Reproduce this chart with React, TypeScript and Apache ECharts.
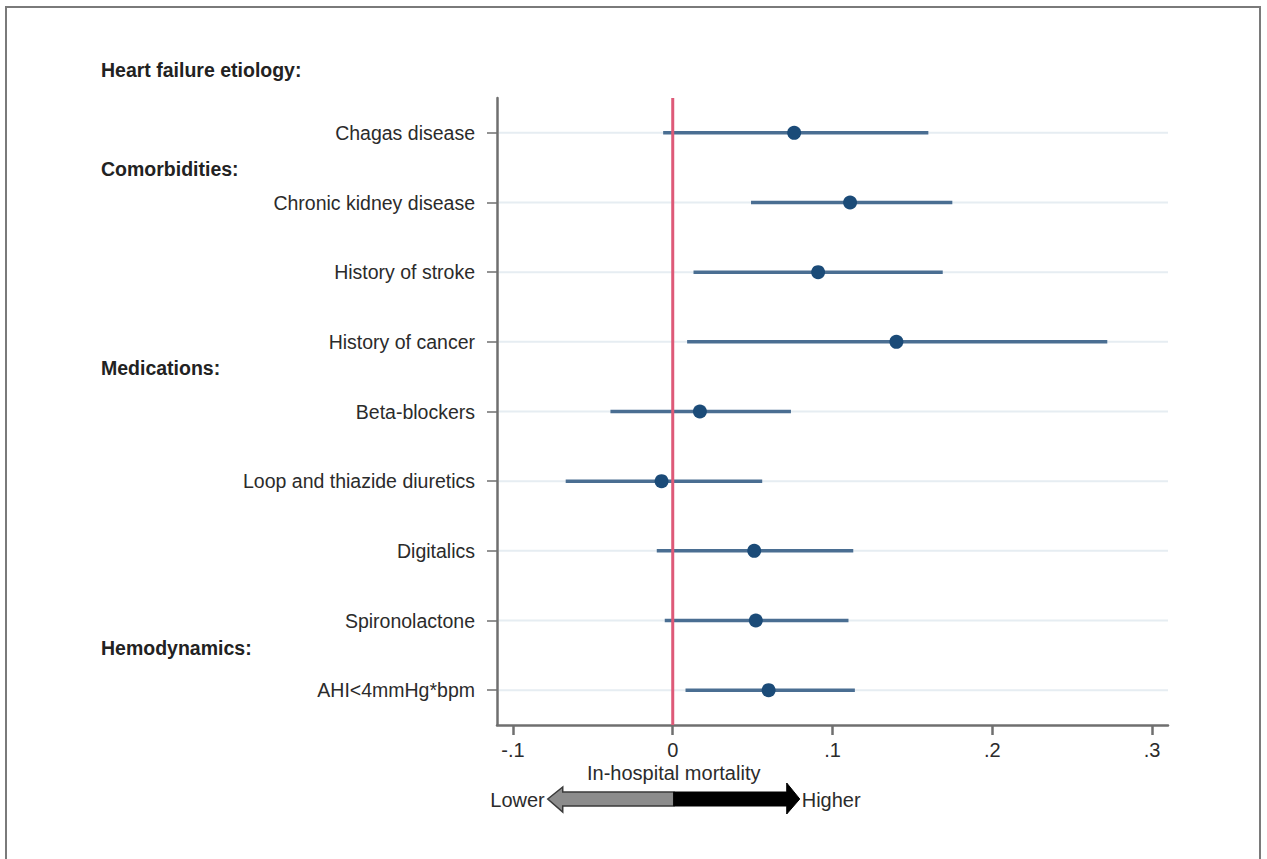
import React, { useEffect, useRef } from "react";
import * as echarts from "echarts";

// Predictors of in-hospital mortality (marginal effect with 95% CI)
const categories = [
  "Chagas disease",
  "Chronic kidney disease",
  "History of stroke",
  "History of cancer",
  "Beta-blockers",
  "Loop and thiazide diuretics",
  "Digitalics",
  "Spironolactone",
  "AHI<4mmHg*bpm",
];
const estimates = [0.076, 0.111, 0.091, 0.14, 0.017, -0.007, 0.051, 0.052, 0.06];
const lowerCI = [-0.006, 0.049, 0.013, 0.009, -0.039, -0.067, -0.01, -0.005, 0.008];
const upperCI = [0.16, 0.175, 0.169, 0.272, 0.074, 0.056, 0.113, 0.11, 0.114];
const xTicks = [-0.1, 0, 0.1, 0.2, 0.3];

// Group headings and their vertical position
const groupHeaders = [
  { text: "Heart failure etiology:", y: 70 },
  { text: "Comorbidities:", y: 169 },
  { text: "Medications:", y: 368 },
  { text: "Hemodynamics:", y: 648 },
];

const FONT = "'Liberation Sans', Arial, Helvetica, sans-serif";
const AXIS_COLOR = "#6f6f6f";

const fmtTick = (v: number) => {
  if (Math.abs(v) < 1e-9) return "0";
  const s = String(Math.round(v * 10) / 10);
  return s.replace("0.", ".");
};

export default function App() {
  const ref = useRef<HTMLDivElement>(null);

  useEffect(() => {
    if (!ref.current) return;
    const chart = echarts.init(ref.current, undefined, { renderer: "svg" });

    const ciData = categories.map((_, i) => [lowerCI[i], upperCI[i], i]);
    const pointData = categories.map((_, i) => [estimates[i], i]);

    chart.setOption({
      animation: false,
      backgroundColor: "#ffffff",
      grid: { left: 497, right: 99, top: 98, bottom: 134, containLabel: false },
      xAxis: {
        type: "value",
        min: -0.11,
        max: 0.31,
        axisLine: { show: true, onZero: false, lineStyle: { color: AXIS_COLOR, width: 2.5 } },
        axisTick: {
          show: true,
          length: 10,
          customValues: xTicks,
          lineStyle: { color: AXIS_COLOR, width: 2.5 },
        },
        axisLabel: {
          customValues: xTicks,
          formatter: (v: number) => fmtTick(v),
          fontFamily: FONT,
          fontSize: 20,
          color: "#2b2b2b",
          margin: 15,
        },
        splitLine: { show: false },
      },
      yAxis: {
        type: "category",
        data: categories,
        inverse: true,
        boundaryGap: true,
        axisLine: { show: true, onZero: false, lineStyle: { color: AXIS_COLOR, width: 2.5 } },
        axisTick: {
          show: true,
          alignWithLabel: true,
          length: 10,
          lineStyle: { color: AXIS_COLOR, width: 1.5 },
        },
        axisLabel: {
          fontFamily: FONT,
          fontSize: 19.5,
          color: "#2b2b2b",
          margin: 22,
        },
        splitLine: { show: false },
      },
      series: [
        {
          // faint row guides
          type: "custom",
          z: 1,
          silent: true,
          data: categories.map((_, i) => [0, i]),
          encode: { x: 0, y: 1 },
          renderItem: (params: any, api: any) => {
            const cs = params.coordSys;
            const y = api.coord([0, api.value(1)])[1];
            return {
              type: "line",
              shape: { x1: cs.x + 2, y1: y, x2: cs.x + cs.width, y2: y },
              style: { stroke: "#e6edf2", lineWidth: 2 },
            };
          },
        },
        {
          // confidence intervals
          type: "custom",
          z: 2,
          data: ciData,
          encode: { x: [0, 1], y: 2 },
          renderItem: (_params: any, api: any) => {
            const a = api.coord([api.value(0), api.value(2)]);
            const b = api.coord([api.value(1), api.value(2)]);
            return {
              type: "line",
              shape: { x1: a[0], y1: a[1], x2: b[0], y2: b[1] },
              style: { stroke: "#4a6e92", lineWidth: 3.5 },
            };
          },
        },
        {
          // reference line at zero
          type: "custom",
          z: 3,
          silent: true,
          data: [[0, 0]],
          encode: { x: 0, y: 1 },
          renderItem: (params: any, api: any) => {
            const cs = params.coordSys;
            const x = api.coord([api.value(0), 0])[0];
            return {
              type: "line",
              shape: { x1: x, y1: cs.y, x2: x, y2: cs.y + cs.height },
              style: { stroke: "#de5a78", lineWidth: 3 },
            };
          },
        },
        {
          type: "scatter",
          z: 4,
          data: pointData,
          symbol: "circle",
          symbolSize: 14,
          itemStyle: { color: "#1b4b78", opacity: 1 },
        },
      ],
    });

    const x0 = chart.convertToPixel({ xAxisIndex: 0 }, 0) as number;
    const ay = 799;

    const textStyle = (extra: any) => ({
      fontFamily: FONT,
      fill: "#2b2b2b",
      ...extra,
    });

    chart.setOption({
      graphic: [
        {
          type: "rect",
          silent: true,
          shape: { x: 6, y: 7, width: 1254, height: 900 },
          style: { fill: "none", stroke: "#7a7a7a", lineWidth: 2 },
        },
        ...groupHeaders.map((h) => ({
          type: "text",
          x: 101,
          y: h.y,
          style: textStyle({
            text: h.text,
            fontSize: 19.5,
            fontWeight: "bold",
            fill: "#222222",
            align: "left",
            textAlign: "left",
            verticalAlign: "middle",
            textVerticalAlign: "middle",
          }),
        })),
        {
          type: "text",
          x: x0 + 1,
          y: 773,
          style: textStyle({
            text: "In-hospital mortality",
            fontSize: 20,
            align: "center",
            textAlign: "center",
            verticalAlign: "middle",
            textVerticalAlign: "middle",
          }),
        },
        {
          type: "polygon",
          shape: {
            points: [
              [x0 - 125, ay],
              [x0 - 110, ay - 12],
              [x0 - 110, ay - 7],
              [x0 + 1, ay - 7],
              [x0 + 1, ay + 7],
              [x0 - 110, ay + 7],
              [x0 - 110, ay + 13],
            ],
          },
          style: { fill: "#8c8c8c", stroke: "#3a3a3a", lineWidth: 1.5 },
        },
        {
          type: "polygon",
          shape: {
            points: [
              [x0 + 1, ay - 7],
              [x0 + 114, ay - 7],
              [x0 + 114, ay - 16],
              [x0 + 127, ay],
              [x0 + 114, ay + 15],
              [x0 + 114, ay + 7],
              [x0 + 1, ay + 7],
            ],
          },
          style: { fill: "#000000", stroke: "#000000", lineWidth: 1 },
        },
        {
          type: "text",
          x: x0 - 128,
          y: ay + 1,
          style: textStyle({
            text: "Lower",
            fontSize: 20,
            align: "right",
            textAlign: "right",
            verticalAlign: "middle",
            textVerticalAlign: "middle",
          }),
        },
        {
          type: "text",
          x: x0 + 129,
          y: ay + 1,
          style: textStyle({
            text: "Higher",
            fontSize: 20,
            align: "left",
            textAlign: "left",
            verticalAlign: "middle",
            textVerticalAlign: "middle",
          }),
        },
      ],
    });

    return () => chart.dispose();
  }, []);

  return (
    <div
      ref={ref}
      style={{ position: "absolute", left: 0, top: 0, width: 1267, height: 859 }}
    />
  );
}
